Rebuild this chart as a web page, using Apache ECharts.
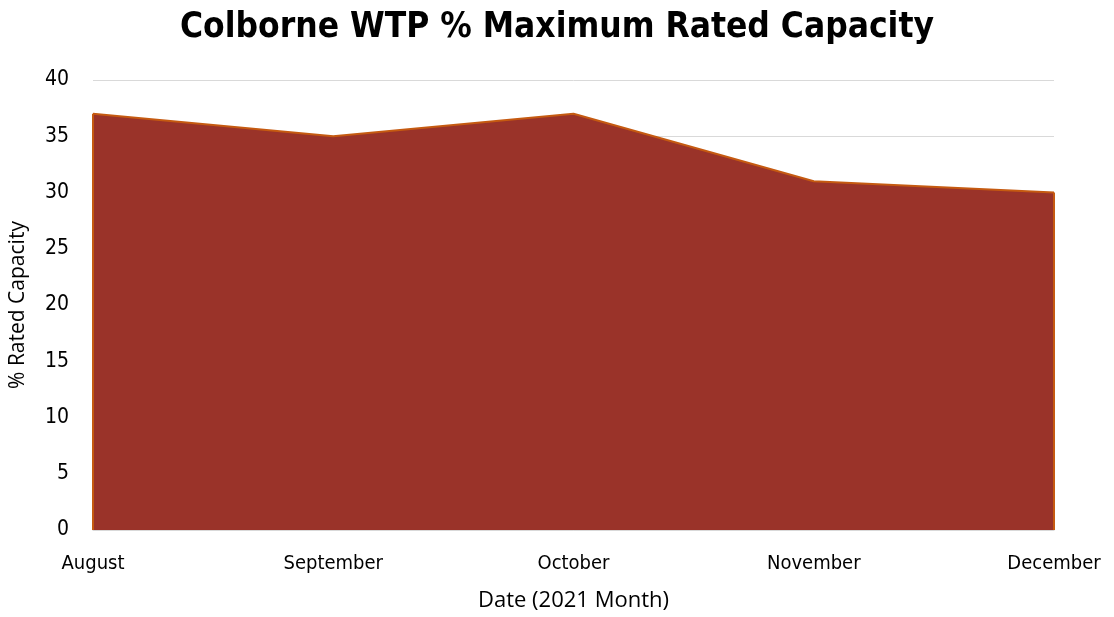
<!DOCTYPE html>
<html>
<head>
<meta charset="utf-8">
<script src="https://cdn.jsdelivr.net/npm/echarts@6/dist/echarts.min.js"></script>
<style>
  html, body { margin: 0; padding: 0; background: #fff; }
  #chart-container { width: 1114px; height: 617px; }
</style>
</head>
<body>
<div id="chart-container"></div>
<script>
// monthly % of max rated capacity
var months = ['August', 'September', 'October', 'November', 'December'];
var capacity = [37, 35, 37, 31, 30];
var yTicks = { min: 0, max: 40, step: 5 };

var myChart = echarts.init(document.getElementById('chart-container'));

var last = months.length - 1;

var option = {
  animation: false,
  title: {
    text: 'Colborne WTP % Maximum Rated Capacity',
    left: 'center',
    top: 5,
    textStyle: {
      fontFamily: 'DejaVu Sans Condensed',
      fontWeight: 'bold',
      fontSize: 35,
      color: '#000'
    }
  },
  grid: { left: 92, right: 60, top: 80, bottom: 86 },
  xAxis: {
    type: 'category',
    data: months,
    boundaryGap: false,
    name: 'Date (2021 Month)',
    nameLocation: 'middle',
    nameGap: 60,
    nameTextStyle: { fontFamily: 'Open Sans', fontSize: 22, color: '#000' },
    axisLine: { lineStyle: { color: '#d9d9d9', width: 1 } },
    axisTick: { show: false },
    axisLabel: {
      fontFamily: 'DejaVu Sans Condensed',
      fontSize: 20,
      color: '#000',
      margin: 24
    },
    splitLine: { show: false }
  },
  yAxis: {
    type: 'value',
    min: yTicks.min,
    max: yTicks.max,
    interval: yTicks.step,
    name: '% Rated Capacity',
    nameLocation: 'middle',
    nameGap: 64,
    nameTextStyle: { fontFamily: 'Open Sans', fontSize: 21, color: '#000' },
    axisLine: { show: false },
    axisTick: { show: false },
    axisLabel: {
      fontFamily: 'DejaVu Sans Condensed',
      fontSize: 21,
      color: '#000',
      margin: 24
    },
    splitLine: { lineStyle: { color: '#d9d9d9', width: 1 } }
  },
  series: [
    {
      name: '% Rated Capacity',
      type: 'line',
      data: capacity,
      symbol: 'none',
      lineStyle: { color: '#c55a11', width: 2 },
      areaStyle: { color: '#9a3329', opacity: 1 },
      // orange outline on the left and right edges of the area
      markLine: {
        silent: true,
        symbol: 'none',
        label: { show: false },
        lineStyle: { color: '#c55a11', width: 2, type: 'solid' },
        data: [
          [{ coord: [months[0], 0] }, { coord: [months[0], capacity[0]] }],
          [{ coord: [months[last], 0] }, { coord: [months[last], capacity[last]] }]
        ]
      }
    }
  ]
};

myChart.setOption(option);
</script>
</body>
</html>
